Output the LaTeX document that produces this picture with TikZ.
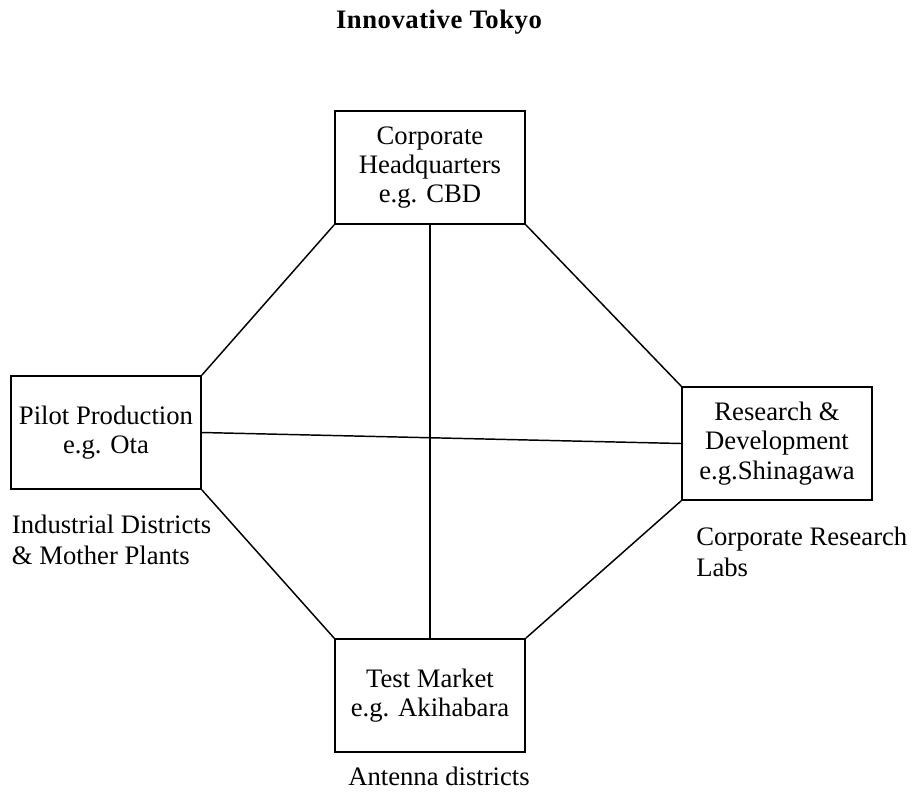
\documentclass[tikz,border=0pt]{standalone}
\usepackage{fontspec}
\setmainfont{Liberation Serif}
\tikzset{
  box/.style={draw, line width=1.3pt, minimum width=142.5pt, minimum height=84.75pt, inner sep=0pt, align=center, font=\fontsize{20}{22}\selectfont},
  lbl/.style={inner sep=0pt, align=left, font=\fontsize{20}{23}\selectfont},
  conn/.style={line width=1.1pt},
}
\begin{document}
\begin{tikzpicture}[x=0.75pt,y=-0.75pt]
\useasboundingbox (0,0) rectangle (916,793);
\node[inner sep=0pt, anchor=base, font=\fontsize{20}{22}\selectfont\bfseries\addfontfeatures{LetterSpace=2}] (title) at (439,28) {Innovative Tokyo};
\node[box] (hq) at (430,167.5) {Corporate\\Headquarters\\e.g. CBD};
\node[box] (pilot) at (106,432.5) {Pilot Production\\e.g. Ota};
\node[box] (rd) at (777,443.5) {Research \&\\Development\\e.g.Shinagawa};
\node[box] (test) at (430,695.5) {Test Market\\e.g. Akihabara};
\draw[conn] (hq.south west) -- (pilot.north east);
\draw[conn] (hq.south east) -- (rd.north west);
\draw[conn] (pilot.south east) -- (test.north west);
\draw[conn] (test.north east) -- (rd.south west);
\draw[conn] (hq.south) -- (test.north);
\draw[conn] (pilot.east) -- (rd.west);
\node[lbl, anchor=base west] (ind) at (11.7,564.5) {Industrial Districts\\\& Mother Plants};
\node[lbl, anchor=base west] (crl) at (696,576) {Corporate Research\\Labs};
\node[lbl, anchor=base] (ant) at (439,785.5) {Antenna districts};
\end{tikzpicture}
\end{document}
